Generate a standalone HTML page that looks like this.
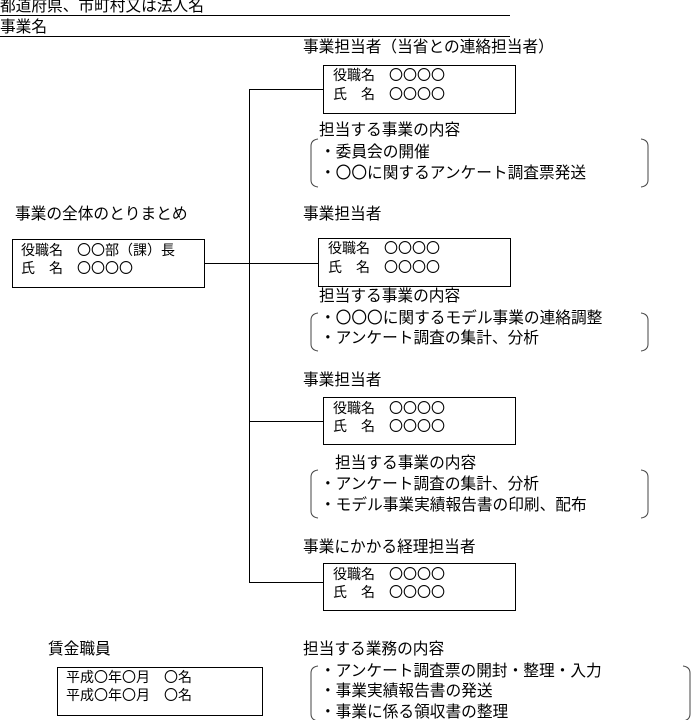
<!DOCTYPE html>
<html><head><meta charset="utf-8"><style>
html,body{margin:0;padding:0;background:#fff;}
body{width:694px;height:720px;position:relative;overflow:hidden;font-family:"Liberation Sans","Noto Sans CJK JP",sans-serif;color:#000;}
.t{position:absolute;white-space:nowrap;font-size:15.7px;line-height:18px;}
.s{font-size:14px;}
svg{position:absolute;left:0;top:0;}
</style></head><body>
<svg width="694" height="720" viewBox="0 0 694 720" fill="none" stroke="#000" stroke-width="1">
<line x1="0" y1="15.5" x2="510" y2="15.5"/>
<line x1="0" y1="36.5" x2="510" y2="36.5"/>
<line x1="249.5" y1="89" x2="249.5" y2="583"/>
<line x1="249" y1="89.5" x2="323" y2="89.5"/>
<line x1="204" y1="263.5" x2="318" y2="263.5"/>
<line x1="249" y1="421.5" x2="323" y2="421.5"/>
<line x1="249" y1="582.5" x2="323" y2="582.5"/>
<rect x="323.5" y="65.5" width="192" height="48"/>
<rect x="12.5" y="239.5" width="192" height="48"/>
<rect x="318.5" y="238.5" width="192" height="48"/>
<rect x="323.5" y="397.5" width="192" height="47"/>
<rect x="323.5" y="563.5" width="192" height="47"/>
<rect x="57.5" y="667.5" width="205" height="48"/>
<g stroke="#444">
<path d="M318 139 Q311 140 311 146 L311 180 Q311 186 318 187"/>
<path d="M641 139 Q648 140 648 146 L648 180 Q648 186 641 187"/>
<path d="M318 313 Q311 314 311 320 L311 344 Q311 350 318 351"/>
<path d="M641 313 Q648 314 648 320 L648 344 Q648 350 641 351"/>
<path d="M318 470 Q311 471 311 477 L311 511 Q311 517 318 518"/>
<path d="M641 470 Q648 471 648 477 L648 511 Q648 517 641 518"/>
<path d="M318 666 Q311 667 311 673 L311 714 Q311 720 318 721"/>
<path d="M683 666 Q690 667 690 673 L690 714 Q690 720 683 721"/>
</g>
</svg>
<div class="t" style="left:0;top:-2px">都道府県、市町村又は法人名</div>
<div class="t" style="left:0;top:19px">事業名</div>

<div class="t" style="left:303px;top:39px">事業担当者（当省との連絡担当者）</div>
<div class="t s" style="left:333px;top:66px">役職名　〇〇〇〇</div>
<div class="t s" style="left:333px;top:85px">氏　名　〇〇〇〇</div>
<div class="t" style="left:319px;top:122px">担当する事業の内容</div>
<div class="t" style="left:320px;top:144px">・委員会の開催</div>
<div class="t" style="left:320px;top:165px">・〇〇に関するアンケート調査票発送</div>

<div class="t" style="left:15px;top:206px">事業の全体のとりまとめ</div>
<div class="t s" style="left:21px;top:241px">役職名　〇〇部（課）長</div>
<div class="t s" style="left:21px;top:259px">氏　名　〇〇〇〇</div>

<div class="t" style="left:303px;top:206px">事業担当者</div>
<div class="t s" style="left:328px;top:239px">役職名　〇〇〇〇</div>
<div class="t s" style="left:328px;top:258px">氏　名　〇〇〇〇</div>
<div class="t" style="left:319px;top:288px">担当する事業の内容</div>
<div class="t" style="left:320px;top:310px">・〇〇〇に関するモデル事業の連絡調整</div>
<div class="t" style="left:320px;top:330px">・アンケート調査の集計、分析</div>

<div class="t" style="left:303px;top:372px">事業担当者</div>
<div class="t s" style="left:333px;top:399px">役職名　〇〇〇〇</div>
<div class="t s" style="left:333px;top:417px">氏　名　〇〇〇〇</div>
<div class="t" style="left:335px;top:455px">担当する事業の内容</div>
<div class="t" style="left:320px;top:476px">・アンケート調査の集計、分析</div>
<div class="t" style="left:320px;top:497px">・モデル事業実績報告書の印刷、配布</div>

<div class="t" style="left:303px;top:539px">事業にかかる経理担当者</div>
<div class="t s" style="left:333px;top:565px">役職名　〇〇〇〇</div>
<div class="t s" style="left:333px;top:583px">氏　名　〇〇〇〇</div>

<div class="t" style="left:48px;top:641px">賃金職員</div>
<div class="t s" style="left:66px;top:668px">平成〇年〇月　〇名</div>
<div class="t s" style="left:66px;top:686px">平成〇年〇月　〇名</div>

<div class="t" style="left:303px;top:641px">担当する業務の内容</div>
<div class="t" style="left:320px;top:663px">・アンケート調査票の開封・整理・入力</div>
<div class="t" style="left:320px;top:683px">・事業実績報告書の発送</div>
<div class="t" style="left:320px;top:704px">・事業に係る領収書の整理</div>
</body></html>
